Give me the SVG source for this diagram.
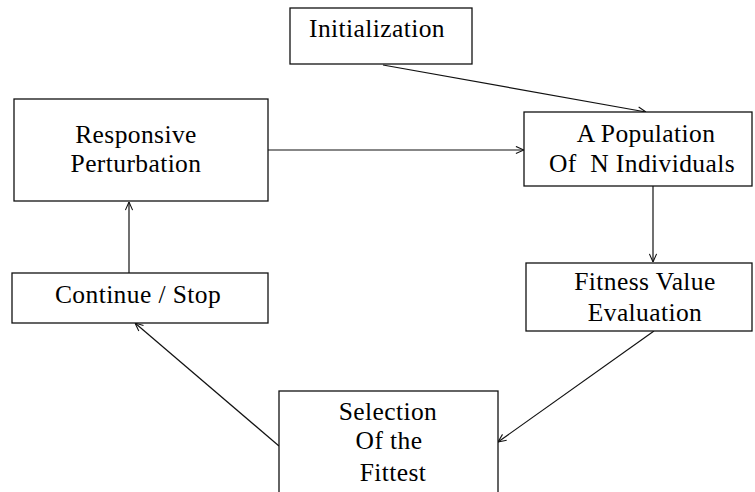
<svg xmlns="http://www.w3.org/2000/svg" width="755" height="492" viewBox="0 0 755 492">
<style>
.box{fill:#fff;stroke:#111;stroke-width:1.3}
text{font-family:'Liberation Serif','Times New Roman',serif;font-size:25.5px;letter-spacing:0.4px;fill:#000;text-anchor:middle;white-space:pre}
.c{stroke:#111;stroke-width:1.2;fill:none;marker-end:url(#ah)}
</style>
<defs>
<marker id="ah" viewBox="0 0 10 10" refX="10" refY="5" markerWidth="9" markerHeight="9" markerUnits="userSpaceOnUse" orient="auto">
<path d="M1,1 L10,5 L1,9" fill="none" stroke="#111" stroke-width="1.2"/>
</marker>
</defs>
<rect width="755" height="492" fill="#fff"/>
<g id="connectors">
<line class="c" x1="383" y1="65" x2="646" y2="112"/>
<line class="c" x1="268" y1="150" x2="524" y2="150"/>
<line class="c" x1="653" y1="186" x2="653" y2="262"/>
<line class="c" x1="654" y1="331" x2="498" y2="442"/>
<line class="c" x1="279" y1="446" x2="135" y2="323"/>
<line class="c" x1="129" y1="273" x2="129" y2="202"/>
</g>
<g id="initialization">
<rect class="box" x="290" y="8" width="182" height="56"/>
<text x="377" y="37">Initialization</text>
</g>
<g id="population">
<rect class="box" x="524" y="112" width="228" height="74"/>
<text x="646" y="142">A Population</text>
<text x="642" y="172">Of  N Individuals</text>
</g>
<g id="fitness">
<rect class="box" x="526" y="263" width="226" height="68"/>
<text x="645" y="290">Fitness Value</text>
<text x="645" y="321">Evaluation</text>
</g>
<g id="selection">
<rect class="box" x="279" y="391" width="219" height="110"/>
<text x="388" y="420">Selection</text>
<text x="389" y="449">Of the</text>
<text x="393" y="481">Fittest</text>
</g>
<g id="continue">
<rect class="box" x="12" y="273" width="256" height="50"/>
<text x="138" y="303">Continue / Stop</text>
</g>
<g id="perturbation">
<rect class="box" x="14" y="99" width="254" height="102"/>
<text x="136" y="143">Responsive</text>
<text x="136" y="171.5">Perturbation</text>
</g>
</svg>
